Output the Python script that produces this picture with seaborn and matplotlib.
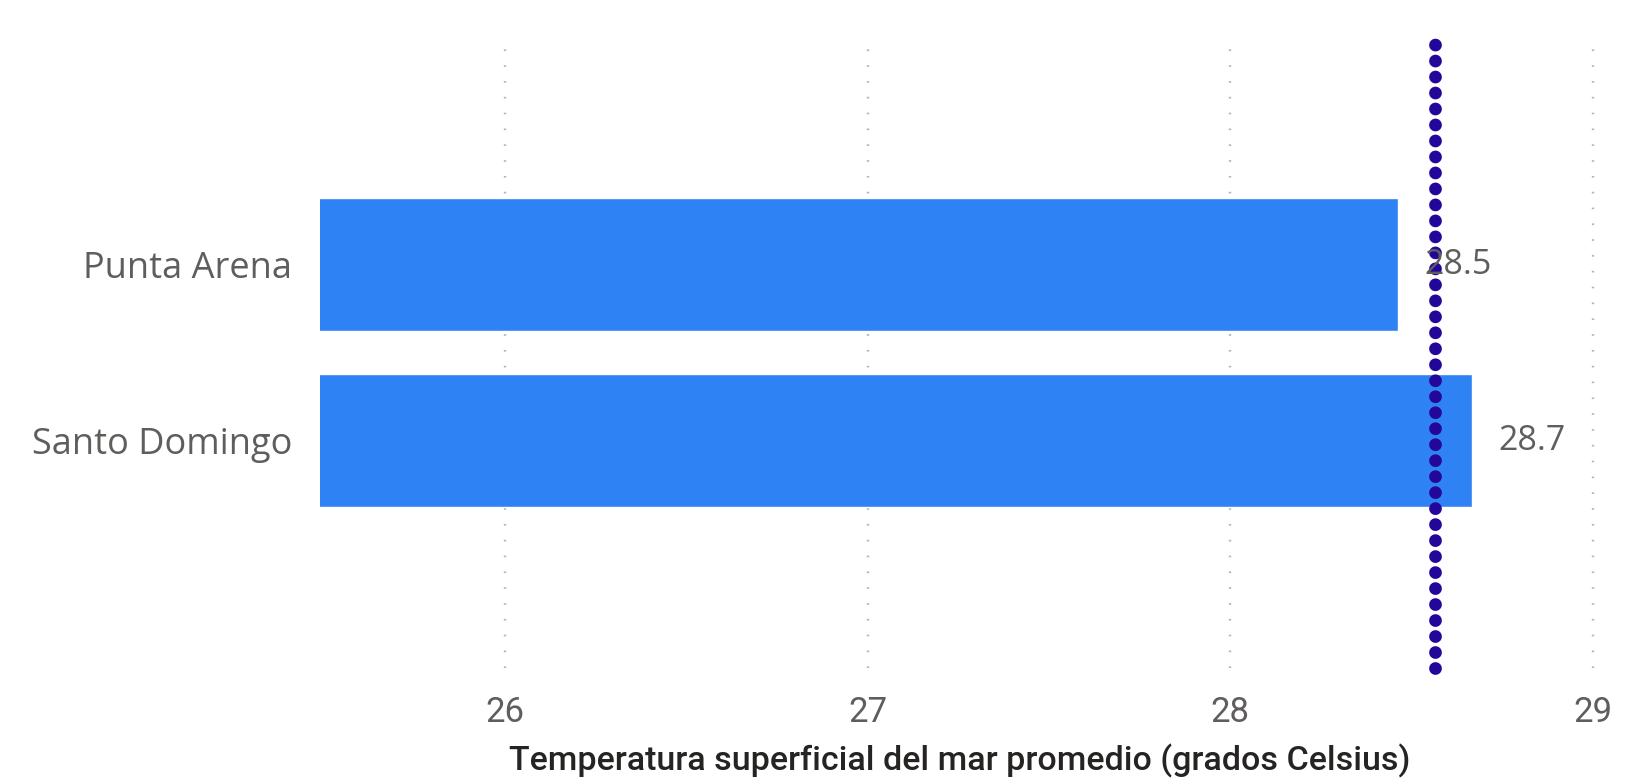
import numpy as np
import pandas as pd
import seaborn as sns
import matplotlib.pyplot as plt

# Data
ciudades = ["Punta Arena", "Santo Domingo"]
temperaturas = [28.463, 28.667]
etiquetas = ["28.5", "28.7"]
ticks_x = [26, 27, 28, 29]

df = pd.DataFrame({"ciudad": ciudades, "temp": temperaturas})
promedio = np.mean(temperaturas)

sns.set_theme(style="white")
plt.rcParams['font.family'] = ['Open Sans', 'DejaVu Sans']

fig = plt.figure(figsize=(16.48, 7.79), dpi=100)
ax = fig.add_axes([0.1942, 0.1425, 0.971 - 0.1942, 0.9487 - 0.1425])

sns.barplot(data=df, x="temp", y="ciudad", orient="h", color="#2E82F4",
            saturation=1, width=0.756, ax=ax)

ax.set_xlim(25.49, 29.02)
ax.set_ylim(2.29, -1.276)

ax.set_xticks(ticks_x)
ax.set_xticklabels([str(t) for t in ticks_x], fontsize=25, color="#605E5C",
                   family=['Roboto', 'DejaVu Sans'])
ax.tick_params(axis="x", length=0, pad=20)
ax.tick_params(axis="y", length=0, pad=20, labelsize=26, labelcolor="#605E5C")

ax.grid(axis="x", color="#B4B4B4", linestyle=(0, (0.7, 6)), linewidth=1.7)
ax.grid(axis="y", visible=False)
ax.set_axisbelow(True)
for s in ax.spines.values():
    s.set_visible(False)

# average line
ax.axvline(promedio, ymin=0.0, ymax=1.0, color="#22079A", linewidth=9.2,
           linestyle=(0, (0.001, 1.25)), dash_capstyle="round", zorder=5,
           clip_on=False)

for i, (v, lab) in enumerate(zip(temperaturas, etiquetas)):
    ax.annotate(lab, xy=(v, i), xytext=(19, 0), textcoords="offset points",
                va="center", ha="left", fontsize=24.5, color="#605E5C", zorder=6)

ax.set_ylabel("")
ax.set_xlabel("Temperatura superficial del mar promedio (grados Celsius)",
              fontsize=24.5, color="#252423", fontweight="medium",
              family=['Roboto', 'DejaVu Sans'], labelpad=11)

fig.savefig("out.png", dpi=100)
